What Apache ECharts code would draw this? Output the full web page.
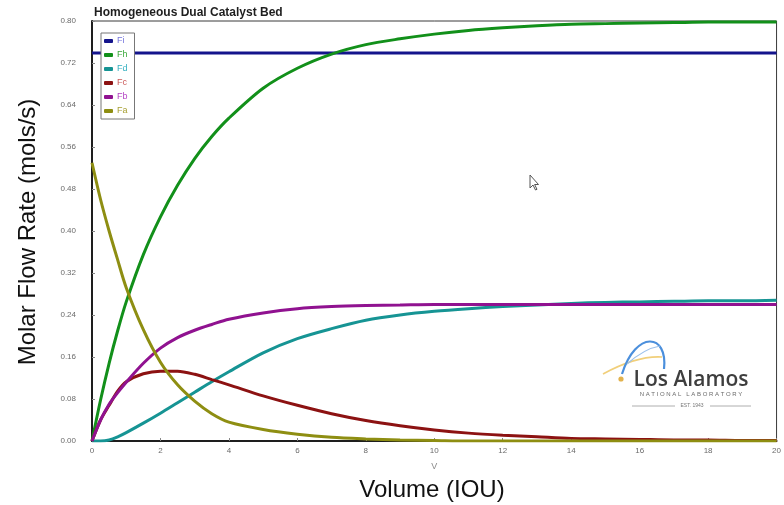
<!DOCTYPE html>
<html>
<head>
<meta charset="utf-8">
<script src="https://cdn.jsdelivr.net/npm/echarts@6/dist/echarts.min.js"></script>
<style>
  html, body { margin: 0; padding: 0; background: #fff; }
  #chart { width: 784px; height: 505px; }
</style>
</head>
<body>
<div id="chart"></div>
<script>
// Reactor volume positions (IOU)
const volume = [0, 0.25, 0.5, 0.75, 1, 1.5, 2, 2.5, 3, 3.5, 4, 5, 6, 7, 8, 9, 10, 11, 12, 13, 14, 15, 16, 17, 18, 19, 20];

// Molar flow rates (mols/s) for each species along the bed
const Fi = [0.739, 0.739, 0.739, 0.739, 0.739, 0.739, 0.739, 0.739, 0.739, 0.739, 0.739, 0.739, 0.739, 0.739, 0.739, 0.739, 0.739, 0.739, 0.739, 0.739, 0.739, 0.739, 0.739, 0.739, 0.739, 0.739, 0.739];
const Fh = [0, 0.078, 0.148, 0.210, 0.265, 0.355, 0.427, 0.487, 0.538, 0.580, 0.615, 0.672, 0.710, 0.737, 0.755, 0.766, 0.775, 0.782, 0.787, 0.791, 0.794, 0.795, 0.796, 0.797, 0.798, 0.798, 0.798];
const Fd = [0, 0, 0.002, 0.008, 0.016, 0.034, 0.053, 0.073, 0.093, 0.113, 0.132, 0.168, 0.195, 0.214, 0.230, 0.240, 0.247, 0.252, 0.256, 0.259, 0.262, 0.264, 0.265, 0.266, 0.267, 0.267, 0.268];
const Fc = [0, 0.040, 0.068, 0.095, 0.113, 0.128, 0.133, 0.133, 0.127, 0.117, 0.107, 0.086, 0.068, 0.052, 0.039, 0.029, 0.021, 0.015, 0.011, 0.008, 0.005, 0.004, 0.003, 0.002, 0.002, 0.001, 0.001];
const Fb = [0, 0.040, 0.070, 0.092, 0.112, 0.148, 0.177, 0.197, 0.211, 0.222, 0.232, 0.244, 0.252, 0.256, 0.258, 0.259, 0.260, 0.260, 0.260, 0.260, 0.260, 0.260, 0.260, 0.260, 0.260, 0.260, 0.260];
const Fa = [0.530, 0.460, 0.400, 0.345, 0.292, 0.212, 0.150, 0.107, 0.076, 0.052, 0.036, 0.022, 0.013, 0.007, 0.004, 0.002, 0.001, 0, 0, 0, 0, 0, 0, 0, 0, 0, 0];

// Axis ticks
const xTicks = { min: 0, max: 20, step: 2 };
const yTicks = { min: 0, max: 0.8, step: 0.08 };

const speciesNames = ['Fi', 'Fh', 'Fd', 'Fc', 'Fb', 'Fa'];
const speciesValues = [Fi, Fh, Fd, Fc, Fb, Fa];
const lineColors = ['#14148c', '#12901a', '#169494', '#8c1212', '#901290', '#8e8e12'];
const legendTextColors = ['#7474dc', '#3aa83a', '#34b0c0', '#cc5a5a', '#b444c4', '#a8a034'];

const chart = echarts.init(document.getElementById('chart'), null, { renderer: 'canvas' });

const series = speciesNames.map((name, i) => ({
  name: name,
  type: 'line',
  data: volume.map((v, j) => [v, speciesValues[i][j]]),
  smooth: 0.3,
  showSymbol: false,
  symbol: 'none',
  lineStyle: { color: lineColors[i], width: 3 },
  itemStyle: { color: lineColors[i] },
  z: 2 + i
}));

chart.setOption({
  animation: false,
  backgroundColor: '#ffffff',
  title: {
    text: 'Homogeneous Dual Catalyst Bed',
    left: 89,
    top: 2,
    textStyle: { fontFamily: 'Liberation Sans', fontSize: 12, fontWeight: 'bold', color: '#1e1e1e' }
  },
  grid: {
    left: 92, right: 7, top: 21, bottom: 64,
    show: true, borderColor: '#3a3a3a', borderWidth: 1, backgroundColor: '#ffffff'
  },
  legend: {
    orient: 'vertical',
    left: 101,
    top: 33,
    padding: [3, 7, 3, 3],
    itemGap: 4,
    itemWidth: 9,
    itemHeight: 4,
    icon: 'roundRect',
    borderColor: '#777',
    borderWidth: 1,
    backgroundColor: '#ffffff',
    data: speciesNames.map((n, i) => ({
      name: n,
      itemStyle: { color: lineColors[i] },
      textStyle: { color: legendTextColors[i] }
    })),
    textStyle: { fontFamily: 'Liberation Sans', fontSize: 9, lineHeight: 10, padding: [0, 0, 0, -1] }
  },
  xAxis: {
    type: 'value',
    min: xTicks.min, max: xTicks.max, interval: xTicks.step,
    name: 'V',
    nameLocation: 'middle',
    nameGap: 21,
    nameTextStyle: { fontFamily: 'Liberation Sans', fontSize: 9, color: '#8a8a8a' },
    axisLine: { show: true, lineStyle: { color: '#1e1e1e', width: 2 } },
    axisTick: { show: true, inside: true, length: 3, lineStyle: { color: '#888' } },
    axisLabel: { fontFamily: 'Liberation Sans', fontSize: 8, color: '#6a6a6a', margin: 6 },
    splitLine: { show: false }
  },
  yAxis: {
    type: 'value',
    min: yTicks.min, max: yTicks.max, interval: yTicks.step,
    axisLine: { show: true, lineStyle: { color: '#1e1e1e', width: 2 } },
    axisTick: { show: true, inside: true, length: 3, lineStyle: { color: '#888' } },
    axisLabel: {
      fontFamily: 'Liberation Sans', fontSize: 8, color: '#6a6a6a', margin: 16,
      formatter: v => v.toFixed(2)
    },
    splitLine: { show: false }
  },
  series: series,
  graphic: [
    {
      type: 'text',
      x: 28, y: 232,
      rotation: Math.PI / 2,
      style: {
        text: 'Molar Flow Rate (mols/s)',
        fontFamily: 'Liberation Sans', fontSize: 24, fill: '#111',
        textAlign: 'center', textVerticalAlign: 'middle'
      }
    },
    {
      type: 'text',
      x: 432, y: 490,
      style: {
        text: 'Volume (IOU)',
        fontFamily: 'Liberation Sans', fontSize: 24, fill: '#111',
        textAlign: 'center', textVerticalAlign: 'middle'
      }
    },
    // pointer cursor resting on the plot
    {
      type: 'polygon',
      shape: { points: [[530, 175], [530, 188], [533, 185], [535.5, 190], [537, 189.3], [534.6, 184.5], [538.5, 184.5]] },
      style: { fill: '#ffffff', stroke: '#555', lineWidth: 1 },
      z: 20
    },
    // laboratory logo: swoosh marks
    {
      type: 'bezierCurve',
      shape: { x1: 603, y1: 374, x2: 662, y2: 357, cpx1: 625, cpy1: 362, cpx2: 645, cpy2: 356 },
      style: { stroke: '#f1cf7a', lineWidth: 1.6, fill: null },
      z: 20
    },
    {
      type: 'bezierCurve',
      shape: { x1: 622, y1: 374, x2: 664, y2: 369, cpx1: 636, cpy1: 330, cpx2: 668, cpy2: 333 },
      style: { stroke: '#4b8fdc', lineWidth: 2.2, fill: null },
      z: 20
    },
    {
      type: 'bezierCurve',
      shape: { x1: 627, y1: 364, x2: 660, y2: 346, cpx1: 636, cpy1: 356, cpx2: 648, cpy2: 348 },
      style: { stroke: '#9cc0ea', lineWidth: 1.2, fill: null },
      z: 20
    },
    {
      type: 'circle',
      shape: { cx: 621, cy: 379, r: 2.6 },
      style: { fill: '#e2b24c' },
      z: 21
    },
    {
      type: 'text',
      x: 691, y: 380,
      style: {
        text: 'Los Alamos',
        fontFamily: 'Open Sans', fontSize: 21, fontWeight: 600, fill: '#3e3e3e',
        textAlign: 'center', textVerticalAlign: 'middle'
      },
      z: 20
    },
    {
      type: 'text',
      x: 691, y: 394,
      style: {
        text: 'N A T I O N A L   L A B O R A T O R Y',
        fontFamily: 'Liberation Sans', fontSize: 6, fill: '#6a6a6a',
        textAlign: 'center', textVerticalAlign: 'middle'
      },
      z: 20
    },
    {
      type: 'text',
      x: 692, y: 406,
      style: {
        text: 'EST. 1943',
        fontFamily: 'Liberation Sans', fontSize: 5, fill: '#777',
        textAlign: 'center', textVerticalAlign: 'middle'
      },
      z: 20
    },
    {
      type: 'line',
      shape: { x1: 632, y1: 406, x2: 675, y2: 406 },
      style: { stroke: '#999', lineWidth: 0.8 },
      z: 20
    },
    {
      type: 'line',
      shape: { x1: 710, y1: 406, x2: 751, y2: 406 },
      style: { stroke: '#999', lineWidth: 0.8 },
      z: 20
    }
  ]
});
</script>
</body>
</html>
